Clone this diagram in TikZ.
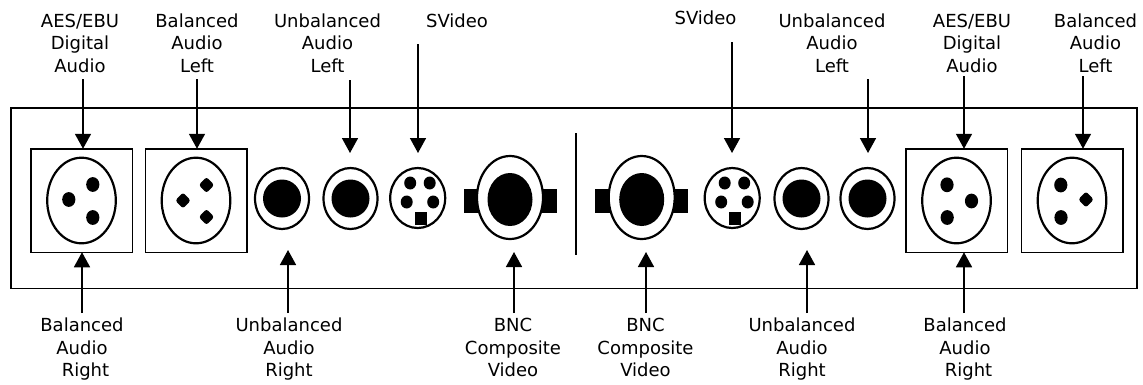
\documentclass[tikz,border=0pt]{standalone}
\usepackage{fontspec}
\setmainfont{DejaVu Sans}
\usetikzlibrary{arrows.meta,shapes.geometric}
\newcommand{\labelFont}[0]{\fontsize{18}{22.5}\selectfont}
\newcommand{\xlrJack}[2]{%
  \node[xlrbox] (#1) at (#2) {};
  \draw[line width=2.2pt] (#1.center) ellipse (34.3pt and 42.8pt);}
\newcommand{\pinDot}[2]{\fill ([shift={(#2)}]#1.center) ellipse (6.6pt and 7.4pt);}
\newcommand{\pinKey}[2]{\fill[rounded corners=2.5pt] ([shift={(#2)}]#1.center)
  +(0,-8) -- +(7.7,0) -- +(0,8) -- +(-7.7,0) -- cycle;}
\newcommand{\rcaJack}[2]{%
  \node[jackrim,minimum width=54pt,minimum height=61pt] (#1) at (#2) {};
  \fill (#1.center) ellipse (19pt and 19pt);}
\newcommand{\svideoJack}[2]{%
  \node[jackrim,minimum width=55pt,minimum height=60pt] (#1) at (#2) {};
  \fill ([shift={(-7.5,-15)}]#1.center) ellipse (6pt and 6.5pt);
  \fill ([shift={(12,-15)}]#1.center) ellipse (6pt and 6.5pt);
  \fill ([shift={(-11,4)}]#1.center) ellipse (6pt and 6.5pt);
  \fill ([shift={(15.5,4)}]#1.center) ellipse (6pt and 6.5pt);
  \fill ([shift={(-3,14)}]#1.center) rectangle ++(12,13);}
\newcommand{\bncJack}[2]{%
  \coordinate (#1c) at (#2);
  \fill ([shift={(-46.5,-8.5)}]#1c) rectangle ++(93,24);
  \node[jackrim,fill=white,minimum width=66pt,minimum height=83pt] (#1) at (#1c) {};
  \fill ([shift={(0,2)}]#1.center) ellipse (22.5pt and 26.5pt);}

\begin{document}
\begin{tikzpicture}[x=1pt,y=-1pt]
  \tikzset{
    tag/.style={font=\labelFont,align=center,anchor=north,inner sep=0pt},
    panel/.style={draw,line width=1.5pt,minimum width=1126pt,minimum height=180.8pt,inner sep=0pt,outer sep=0pt},
    xlrbox/.style={draw,line width=1.5pt,minimum width=101.5pt,minimum height=103.5pt,inner sep=0pt,outer sep=0pt},
    jackrim/.style={ellipse,draw,line width=2.2pt,inner sep=0pt,outer sep=0pt},
    feed/.style={line width=1.6pt,-{Triangle[width=16pt,length=15pt]}}
  }
  \useasboundingbox (0,0) rectangle (1143,384);

  \node[panel] (panel) at (573.75,198.2) {};
  \draw[line width=1.5pt] (576,133) -- (576,255);

  \xlrJack{xlrA}{81.5,200.5}
  \pinDot{xlrA}{-12.7,-1} \pinDot{xlrA}{11.3,-16} \pinDot{xlrA}{11.3,17}
  \xlrJack{xlrB}{196,200.5}
  \pinKey{xlrB}{-13,0} \pinKey{xlrB}{10.5,-15.5} \pinKey{xlrB}{10.5,16.5}
  \rcaJack{rcaA}{282,198.5}
  \rcaJack{rcaB}{350.5,198.5}
  \svideoJack{svA}{417.7,198}
  \bncJack{bncA}{510,197.5}
  \bncJack{bncB}{641.7,197.5}
  \svideoJack{svB}{732.2,198}
  \rcaJack{rcaC}{801.5,198.5}
  \rcaJack{rcaD}{867.5,198.5}
  \xlrJack{xlrC}{956.5,200.5}
  \pinDot{xlrC}{-9.5,-15.7} \pinDot{xlrC}{15,0.5} \pinDot{xlrC}{-9.3,17}
  \xlrJack{xlrD}{1072,200.5}
  \pinDot{xlrD}{-11.2,-15.5} \pinKey{xlrD}{14,-1} \pinDot{xlrD}{-11,17}

  \node[tag] (topAesA) at (80,13.5) {AES/EBU\\Digital\\Audio};
  \node[tag] (topBalA) at (197,13.5) {Balanced\\Audio\\Left};
  \node[tag] (topUnbA) at (327.5,13.5) {Unbalanced\\Audio\\Left};
  \node[tag] (topSvA) at (457,13.5) {SVideo};
  \node[tag] (topSvB) at (705.5,11) {SVideo};
  \node[tag] (topUnbB) at (832,13.5) {Unbalanced\\Audio\\Left};
  \node[tag] (topAesB) at (972,13.5) {AES/EBU\\Digital\\Audio};
  \node[tag] (topBalB) at (1095.5,13.5) {Balanced\\Audio\\Left};

  \node[tag] (botBalA) at (82,318) {Balanced\\Audio\\\hspace*{7pt}Right};
  \node[tag] (botUnbA) at (289,318) {Unbalanced\\Audio\\Right};
  \node[tag] (botBncA) at (513,318) {BNC\\Composite\\Video};
  \node[tag] (botBncB) at (645.5,318) {BNC\\Composite\\Video};
  \node[tag] (botUnbB) at (802,318) {Unbalanced\\Audio\\Right};
  \node[tag] (botBalB) at (965,318) {Balanced\\Audio\\\hspace*{7pt}Right};

  \coordinate (inAesA) at (83,79);
  \coordinate (inBalA) at (197,79);
  \coordinate (inUnbA) at (350,80);
  \coordinate (inSvA) at (418,44);
  \coordinate (inSvB) at (732,42);
  \coordinate (inUnbB) at (868,79);
  \coordinate (inAesB) at (964,76);
  \coordinate (inBalB) at (1083,76);
  \draw[feed] (inAesA) -- (inAesA |- xlrA.north);
  \draw[feed] (inBalA) -- (inBalA |- xlrB.north);
  \draw[feed,shorten >=15pt] (inUnbA) -- (inUnbA |- rcaB.north);
  \draw[feed,shorten >=15pt] (inSvA) -- (inSvA |- svA.north);
  \draw[feed,shorten >=15pt] (inSvB) -- (inSvB |- svB.north);
  \draw[feed,shorten >=15pt] (inUnbB) -- (inUnbB |- rcaD.north);
  \draw[feed] (inAesB) -- (inAesB |- xlrC.north);
  \draw[feed] (inBalB) -- (inBalB |- xlrD.north);

  \coordinate (outBalA) at (82,313);
  \coordinate (outUnbA) at (288,313);
  \coordinate (outBncA) at (514,313);
  \coordinate (outBncB) at (646,313);
  \coordinate (outUnbB) at (807,313);
  \coordinate (outBalB) at (964,313);
  \draw[feed] (outBalA) -- (outBalA |- xlrA.south);
  \draw[feed,shorten >=21pt] (outUnbA) -- (outUnbA |- rcaA.south);
  \draw[feed,shorten >=13pt] (outBncA) -- (outBncA |- bncA.south);
  \draw[feed,shorten >=13pt] (outBncB) -- (outBncB |- bncB.south);
  \draw[feed,shorten >=21pt] (outUnbB) -- (outUnbB |- rcaC.south);
  \draw[feed] (outBalB) -- (outBalB |- xlrC.south);
\end{tikzpicture}
\end{document}
